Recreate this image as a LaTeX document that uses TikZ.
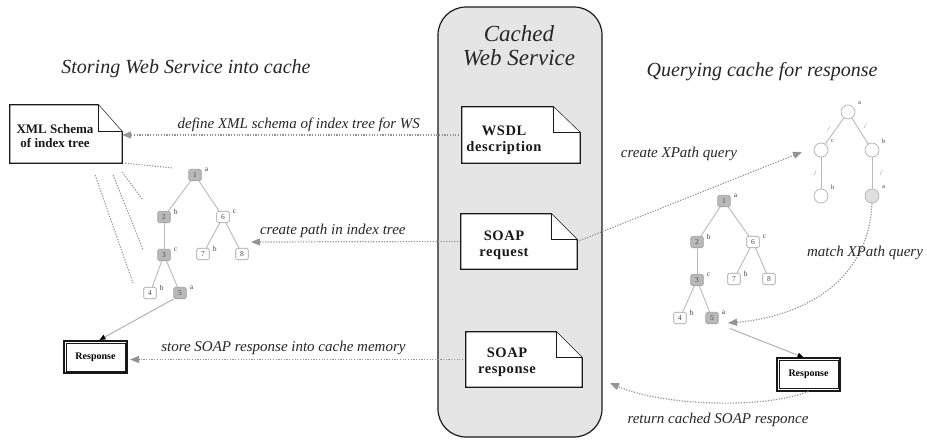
\documentclass[tikz,border=0pt]{standalone}
\usepackage{fontspec}
\setmainfont{Liberation Serif}
\newfontfamily\docfont[LetterSpace=4]{Liberation Serif}
\usetikzlibrary{arrows.meta}

% outline of a document node with a folded top-right corner
\newcommand\docoutline[3]{%
  \filldraw[docline] (#1.north west) -- ([xshift=-#2]#1.north east)
    -- ([yshift=-#3]#1.north east) -- (#1.south east) -- (#1.south west) -- cycle;
  \draw[docline] ([xshift=-#2]#1.north east) |- ([yshift=-#3]#1.north east);}

% inner frame of a double-bordered response box
\newcommand\innerframe[1]{%
  \draw[black!90, line width=0.9pt] ([shift={(3pt,3pt)}]#1.south west)
    rectangle ([shift={(-3pt,-3pt)}]#1.north east);}

\begin{document}
\begin{tikzpicture}[x=1pt,y=-1pt,
  title/.style={font=\fontsize{20}{22}\selectfont\itshape, text=black!85, inner sep=0},
  flowlbl/.style={font=\fontsize{15}{17}\selectfont\itshape, text=black!85, inner sep=0},
  doctext/.style={font=\docfont\fontsize{14.5}{15.5}\selectfont\bfseries, align=center, inner sep=0, text=black!90},
  docbox/.style={rectangle, inner sep=0},
  docline/.style={draw=black!90, line width=1.3pt, fill=white},
  flow/.style={draw=gray!85, line width=1.2pt, dash pattern=on 1.2pt off 1.5pt,
    -{Triangle[length=9pt,width=7pt]}},
  assoc/.style={draw=gray!85, line width=1.1pt, dash pattern=on 1.2pt off 1.5pt},
  tedge/.style={draw=gray!55, line width=0.9pt},
  tnode/.style={rectangle, rounded corners=1.5pt, draw=gray!75, line width=0.6pt,
    minimum width=12.5pt, minimum height=11.5pt, inner sep=0, fill=white,
    font=\fontsize{7.5}{7.5}\selectfont, text=black!70},
  gnode/.style={tnode, fill=gray!55},
  tlbl/.style={font=\fontsize{7.5}{7.5}\selectfont, text=black!75, inner sep=0.5pt, xshift=2.5pt, yshift=5.5pt},
  cnode/.style={circle, draw=gray!60, line width=0.7pt, minimum size=14pt, inner sep=0, fill=white},
  clbl/.style={font=\fontsize{6.5}{6.5}\selectfont, text=black!75, inner sep=0.5pt, xshift=2pt, yshift=9pt},
  slash/.style={font=\fontsize{7}{7}\selectfont\itshape, text=black!55, inner sep=0},
  respbox/.style={draw=black!90, line width=1.6pt, fill=white,
    minimum width=63.5pt, minimum height=32.5pt, inner sep=0,
    font=\fontsize{10}{10}\selectfont\bfseries},
  solidedge/.style={draw=gray!60, line width=1pt, -{Triangle[length=6pt,width=5pt,color=black]}}
]
\useasboundingbox (0,0) rectangle (927,442);

% cached web service container
\node[draw=black!90, line width=1.2pt, fill=gray!20, rounded corners=28pt,
  minimum width=164pt, minimum height=430pt, inner sep=0] (cws) at (520,222) {};
\node[font=\fontsize{23}{23.5}\selectfont\itshape, align=center, inner sep=0, text=black!85]
  (cwstitle) at (519,45.5) {Cached\\Web Service};

% section titles
\node[title] (ttlstore) at (186,69) {Storing Web Service into cache};
\node[title] (ttlquery) at (762,72) {Querying cache for response};

% document boxes
\node[docbox, minimum width=118pt, minimum height=56pt] (wsdl) at (521,135) {};
\node[docbox, minimum width=116pt, minimum height=55pt] (soapreq) at (519,241.5) {};
\node[docbox, minimum width=116pt, minimum height=55pt] (soapresp) at (524,359.5) {};
\node[docbox, minimum width=112pt, minimum height=58pt] (xml) at (66,134) {};

% response boxes
\node[respbox] (respL) at (95.5,357) {Response};
\node[respbox] (respR) at (808.5,374.5) {Response};
\innerframe{respL}
\innerframe{respR}

% index tree (storing side)
\node[gnode, label={[tlbl]right:a}] (L1) at (195,175) {1};
\node[gnode, label={[tlbl]right:b}] (L2) at (164,217) {2};
\node[tnode, label={[tlbl]right:c}] (L6) at (223,217) {6};
\node[gnode, label={[tlbl]right:c}] (L3) at (164,255) {3};
\node[tnode, label={[tlbl]right:b}] (L7) at (203,254) {7};
\node[tnode] (L8) at (242,254) {8};
\node[tnode, label={[tlbl]right:b}] (L4) at (150,293) {4};
\node[gnode, label={[tlbl]right:a}] (L5) at (180,293) {5};
\draw[tedge] (L1) -- (L2);
\draw[tedge] (L1) -- (L6);
\draw[tedge] (L2) -- (L3);
\draw[tedge] (L6) -- (L7);
\draw[tedge] (L6) -- (L8);
\draw[tedge] (L3) -- (L4);
\draw[tedge] (L3) -- (L5);

% index tree (querying side)
\node[gnode, label={[tlbl]right:a}] (R1) at (724,201) {1};
\node[gnode, label={[tlbl]right:b}] (R2) at (697,242) {2};
\node[tnode, label={[tlbl]right:c}] (R6) at (753,242) {6};
\node[gnode, label={[tlbl]right:c}] (R3) at (697,280) {3};
\node[tnode, label={[tlbl]right:b}] (R7) at (734,279) {7};
\node[tnode] (R8) at (769,279) {8};
\node[tnode, label={[tlbl]right:b}] (R4) at (680,318) {4};
\node[gnode, label={[tlbl]right:a}] (R5) at (712,318) {5};
\draw[tedge] (R1) -- (R2);
\draw[tedge] (R1) -- (R6);
\draw[tedge] (R2) -- (R3);
\draw[tedge] (R6) -- (R7);
\draw[tedge] (R6) -- (R8);
\draw[tedge] (R3) -- (R4);
\draw[tedge] (R3) -- (R5);

% XPath query tree
\node[cnode, label={[clbl]right:a}] (qr) at (848,112) {};
\node[cnode, label={[clbl]right:c}] (qc) at (821,150) {};
\node[cnode, label={[clbl]right:b}] (qb) at (872,150) {};
\node[cnode, label={[clbl]right:b}] (qcb) at (821,196) {};
\node[cnode, fill=gray!25, label={[clbl]right:a}] (qa) at (872,196) {};
\draw[tedge] (qr) -- node[slash, xshift=-6pt, yshift=2pt] (s1) {/} (qc);
\draw[tedge] (qr) -- node[slash, xshift=5pt, yshift=5pt] (s2) {/} (qb);
\draw[tedge] (qc) -- node[slash, xshift=-6pt] (s3) {/} (qcb);
\draw[tedge] (qb) -- node[slash, xshift=9pt] (s4) {/} (qa);

% schema-to-tree associations
\coordinate (a1) at (173,168);
\coordinate (a2) at (143,200);
\coordinate (a3) at (143,250);
\coordinate (a4) at (133,283);
\draw[assoc] ([xshift=3pt]xml.south east) -- (a1);
\draw[assoc] ([yshift=-9pt]xml.south east) -- (a2);
\draw[assoc] ([xshift=-9pt,yshift=-12pt]xml.south east) -- (a3);
\draw[assoc] ([xshift=-27pt,yshift=-12pt]xml.south east) -- (a4);

% flows between the cached service and the caches
\coordinate (pathend) at (251,242);
\coordinate (xpend) at (802,152);
\coordinate (matchend) at (728,323);
\coordinate (retend) at (610,383);

\draw[flow] (wsdl.west) -- node[flowlbl, pos=0.48, above=3pt] (ldefine)
  {define XML schema of index tree for WS} (wsdl.west -| xml.east);
\draw[flow] (soapreq.west) -- node[flowlbl, pos=0.61, above=4pt] (lpath)
  {create path in index tree} (pathend);
\draw[flow, shorten >=2pt] (soapresp.west) -- node[flowlbl, pos=0.54, above=4pt] (lstore)
  {store SOAP response into cache memory} (soapresp.west -| respL.east);
\draw[flow] (soapreq.east) -- (xpend);
\node[flowlbl] (lxpath) at (679,154) {create XPath query};
\draw[flow] (qa.south) .. controls (868,290) and (790,318) .. (matchend);
\node[flowlbl] (lmatch) at (865,253) {match XPath query};
\draw[flow] (respR.south) .. controls (760,410) and (660,405) .. (retend);
\node[flowlbl] (lreturn) at (718,420) {return cached SOAP responce};

% tree leaves to responses
\draw[solidedge] (L5.south west) -- ([xshift=4pt]respL.north);
\draw[solidedge, shorten <=12pt] (R5.south east) -- ([xshift=-5pt]respR.north);

% document outlines and their text
\docoutline{wsdl}{27pt}{26pt}
\docoutline{soapreq}{26pt}{26pt}
\docoutline{soapresp}{26pt}{26pt}
\docoutline{xml}{24pt}{27pt}
\node[doctext] (twsdl) at (504,140) {WSDL\\description};
\node[doctext] (treq) at (504,245) {SOAP\\request};
\node[doctext] (tresp) at (507,362) {SOAP\\response};
\node[doctext, font=\fontsize{13}{14.5}\selectfont\bfseries] (txml) at (55,136) {XML Schema\\of index tree};
\end{tikzpicture}
\end{document}
